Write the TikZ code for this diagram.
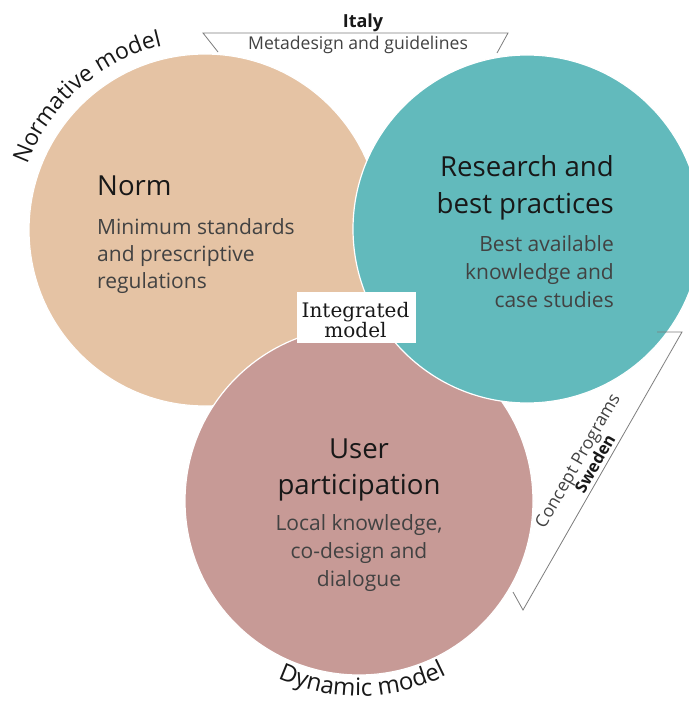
\documentclass[tikz,border=0pt]{standalone}
\usepackage{fontspec}
\setmainfont{Open Sans}
\newfontfamily\slabfont{DejaVu Serif}
\usetikzlibrary{decorations.text,calc}
\definecolor{beige}{RGB}{229,195,164}
\definecolor{tealc}{RGB}{98,186,188}
\definecolor{rose}{RGB}{199,154,150}
\definecolor{headc}{RGB}{24,24,24}
\definecolor{bodyc}{RGB}{66,66,66}
\definecolor{linec}{RGB}{125,125,125}
\newcommand\curvefont{\fontsize{23}{23}\selectfont\color{headc}}
\newcommand\curvefontb{\fontsize{24}{24}\selectfont\color{headc}}
\begin{document}
\begin{tikzpicture}[x=1pt,y=1pt,
  circ/.style={circle, draw=white, line width=1.2pt, inner sep=0pt, minimum size=#1},
  head/.style={font=\fontsize{27.6}{30}\selectfont, text=headc, inner sep=0pt},
  body/.style={font=\fontsize{21}{26}\selectfont, text=bodyc, inner sep=0pt},
  lab/.style={font=\fontsize{17.6}{18}\selectfont, text=bodyc, inner sep=0pt},
  labb/.style={font=\bfseries\fontsize{#1}{18}\selectfont, text=headc, inner sep=0pt},
  integ/.style={font=\slabfont\fontsize{20}{20}\selectfont, text=headc, inner sep=0pt},
  bracket/.style={draw=linec, line width=0.8pt}]
\useasboundingbox (0,0) rectangle (688,-703);
\fill[white] (0,0) rectangle (688,-703);
% circles
\node[circ=352pt, fill=beige] (norm) at (205,-230) {};
\node[circ=348pt, fill=rose] (user) at (359,-501) {};
\node[circ=348pt, fill=tealc] (res) at (527,-229) {};
% Norm texts
\node[head, anchor=base west] (normh) at (97,-196) {Norm};
\node[body, anchor=base west] (normb1) at (97,-234) {Minimum standards};
\node[body, anchor=base west] (normb2) at (97,-261) {and prescriptive};
\node[body, anchor=base west] (normb3) at (97,-288) {regulations};
% Research texts
\node[head, anchor=base east] (resh1) at (614,-177) {Research and};
\node[head, anchor=base east] (resh2) at (614,-214) {best practices};
\node[body, anchor=base east] (resb1) at (614,-251) {Best available};
\node[body, anchor=base east] (resb2) at (614,-279) {knowledge and};
\node[body, anchor=base east] (resb3) at (614,-307) {case studies};
% User texts
\node[head, anchor=base] (userh1) at (359,-458) {User};
\node[head, anchor=base] (userh2) at (359,-494) {participation};
\node[body, anchor=base] (userb1) at (359,-530) {Local knowledge,};
\node[body, anchor=base] (userb2) at (359,-558) {co-design and};
\node[body, anchor=base] (userb3) at (359,-586) {dialogue};
% Integrated model box
\node[fill=white, minimum width=119pt, minimum height=51pt, inner sep=0pt] (ibox) at (356.5,-317.5) {};
\node[integ, anchor=base] (int1) at (355.5,-317) {Integrated};
\node[integ, anchor=base] (int2) at (355.5,-337) {model};
% top bracket
\coordinate (t1) at (203,-33);
\coordinate (t2) at (508,-33);
\coordinate (t3) at (218,-52);
\coordinate (t4) at (497,-53);
\draw[bracket] (t3) -- (t1) -- (t2) -- (t4);
\node[labb=18, anchor=base] (italy) at (363,-28) {Italy};
\node[lab, anchor=base] (meta) at (358,-50) {Metadesign and guidelines};
% right bracket
\coordinate (r1) at (657,-332);
\coordinate (r2) at (682,-332);
\coordinate (r3) at (523,-610);
\coordinate (r4) at (513,-592);
\draw[bracket] (r1) -- (r2) -- (r3) -- (r4);
\node[lab, anchor=base, rotate=60] (concept) at (582.6,-463.6) {Concept Programs};
\node[labb=16.5, anchor=base, rotate=60] (sweden) at (600,-466.5) {Sweden};
% curved labels
\path[decorate, decoration={text along path, text align=center,
   text={|\curvefont|Normative model}}]
   ($(norm.center)+(166:189)$) arc[start angle=166, end angle=97, radius=189];
\path[decorate, decoration={text along path, text align=center,
   text={|\curvefontb|Dynamic model}}]
   ($(user.center)+(242:195)$) arc[start angle=242, end angle=300, radius=195];
\end{tikzpicture}
\end{document}
